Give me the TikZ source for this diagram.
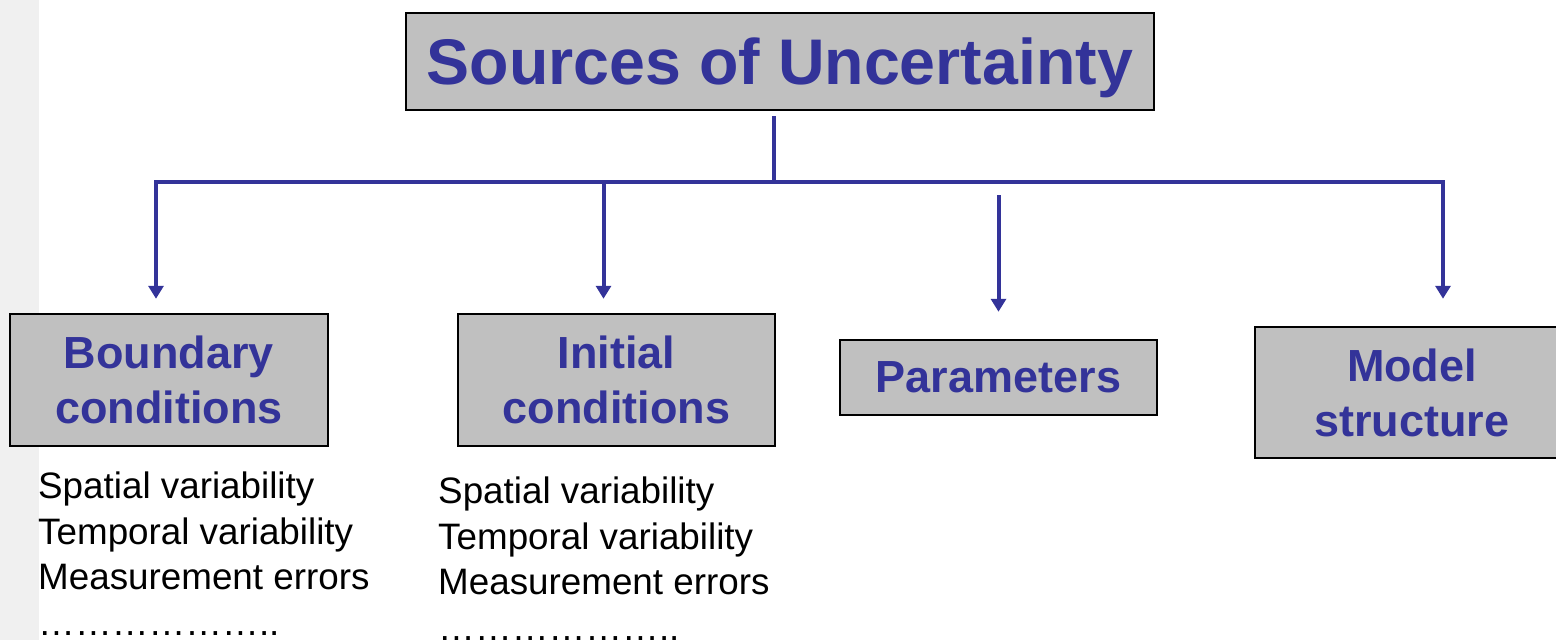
\documentclass[tikz,border=0pt]{standalone}
\usepackage{fontspec}
\setmainfont{Liberation Sans}
\usetikzlibrary{arrows.meta,calc}

\definecolor{srcblue}{RGB}{51,51,153}
\definecolor{boxgray}{RGB}{192,192,192}
\definecolor{stripgray}{RGB}{240,240,240}

\begin{document}
\begin{tikzpicture}[x=1pt,y=-1pt,
		srcbox/.style={draw=black, line width=2.5pt, fill=boxgray, text=srcblue, font=\bfseries\fontsize{45}{55}\selectfont, align=center, inner sep=0pt},
		itemlist/.style={anchor=north west, inner sep=0pt, align=left, font=\fontsize{36.8}{45.5}\selectfont},
		bus/.style={srcblue, line width=4.2pt, line cap=rect},
		feed/.style={srcblue, line width=4pt, -{Triangle[length=13pt,width=15pt]}}]

			% Page frame
			\useasboundingbox (0,0) rectangle (1556,640);
			\fill[stripgray] (0,0) rectangle (39,640);

			% Title
			\node[srcbox, minimum width=748pt, minimum height=97pt, font=\bfseries\fontsize{64.5}{77}\selectfont, text depth=0pt] (title) at (780,61.5) {Sources of Uncertainty};

			% Sources
			\node[srcbox, minimum width=318pt, minimum height=132pt] (bnd) at (169,380) {Boundary\\conditions};
			\node[srcbox, minimum width=317pt, minimum height=132pt] (ini) at (616.5,380) {Initial\\conditions};
			\node[srcbox, minimum width=317pt, minimum height=75pt] (par) at (998.5,377.5) {Parameters};
			\node[srcbox, minimum width=314pt, minimum height=131pt] (mod) at (1412,392.5) {Model\\structure};

			% Branch points on the bus
			\coordinate (hub) at (774,182);
			\coordinate (busL) at (156,182);
			\coordinate (busI) at (603.5,182);
			\coordinate (busR) at (1443,182);

			% Bus
			\draw[bus] ($(hub |- title.south)+(0,7)$) -- (hub);
			\draw[bus] (busL) -- (busR);

			% Drops
			\draw[feed] (busL) -- ($(busL |- bnd.north)+(0,-14)$);
			\draw[feed] (busI) -- ($(busI |- ini.north)+(0,-14)$);
			\draw[feed] ($(par.north |- busL)+(0,13)$) -- ($(par.north)+(0,-27)$);
			\draw[feed] (busR) -- ($(busR |- mod.north)+(0,-27)$);

			% Lists under the boxes
			\node[itemlist] (bndlist) at (38,472) {Spatial variability\\Temporal variability\\Measurement errors\\………………..};
			\node[itemlist] (inilist) at (438,477) {Spatial variability\\Temporal variability\\Measurement errors\\………………..};

		\end{tikzpicture}
\end{document}
